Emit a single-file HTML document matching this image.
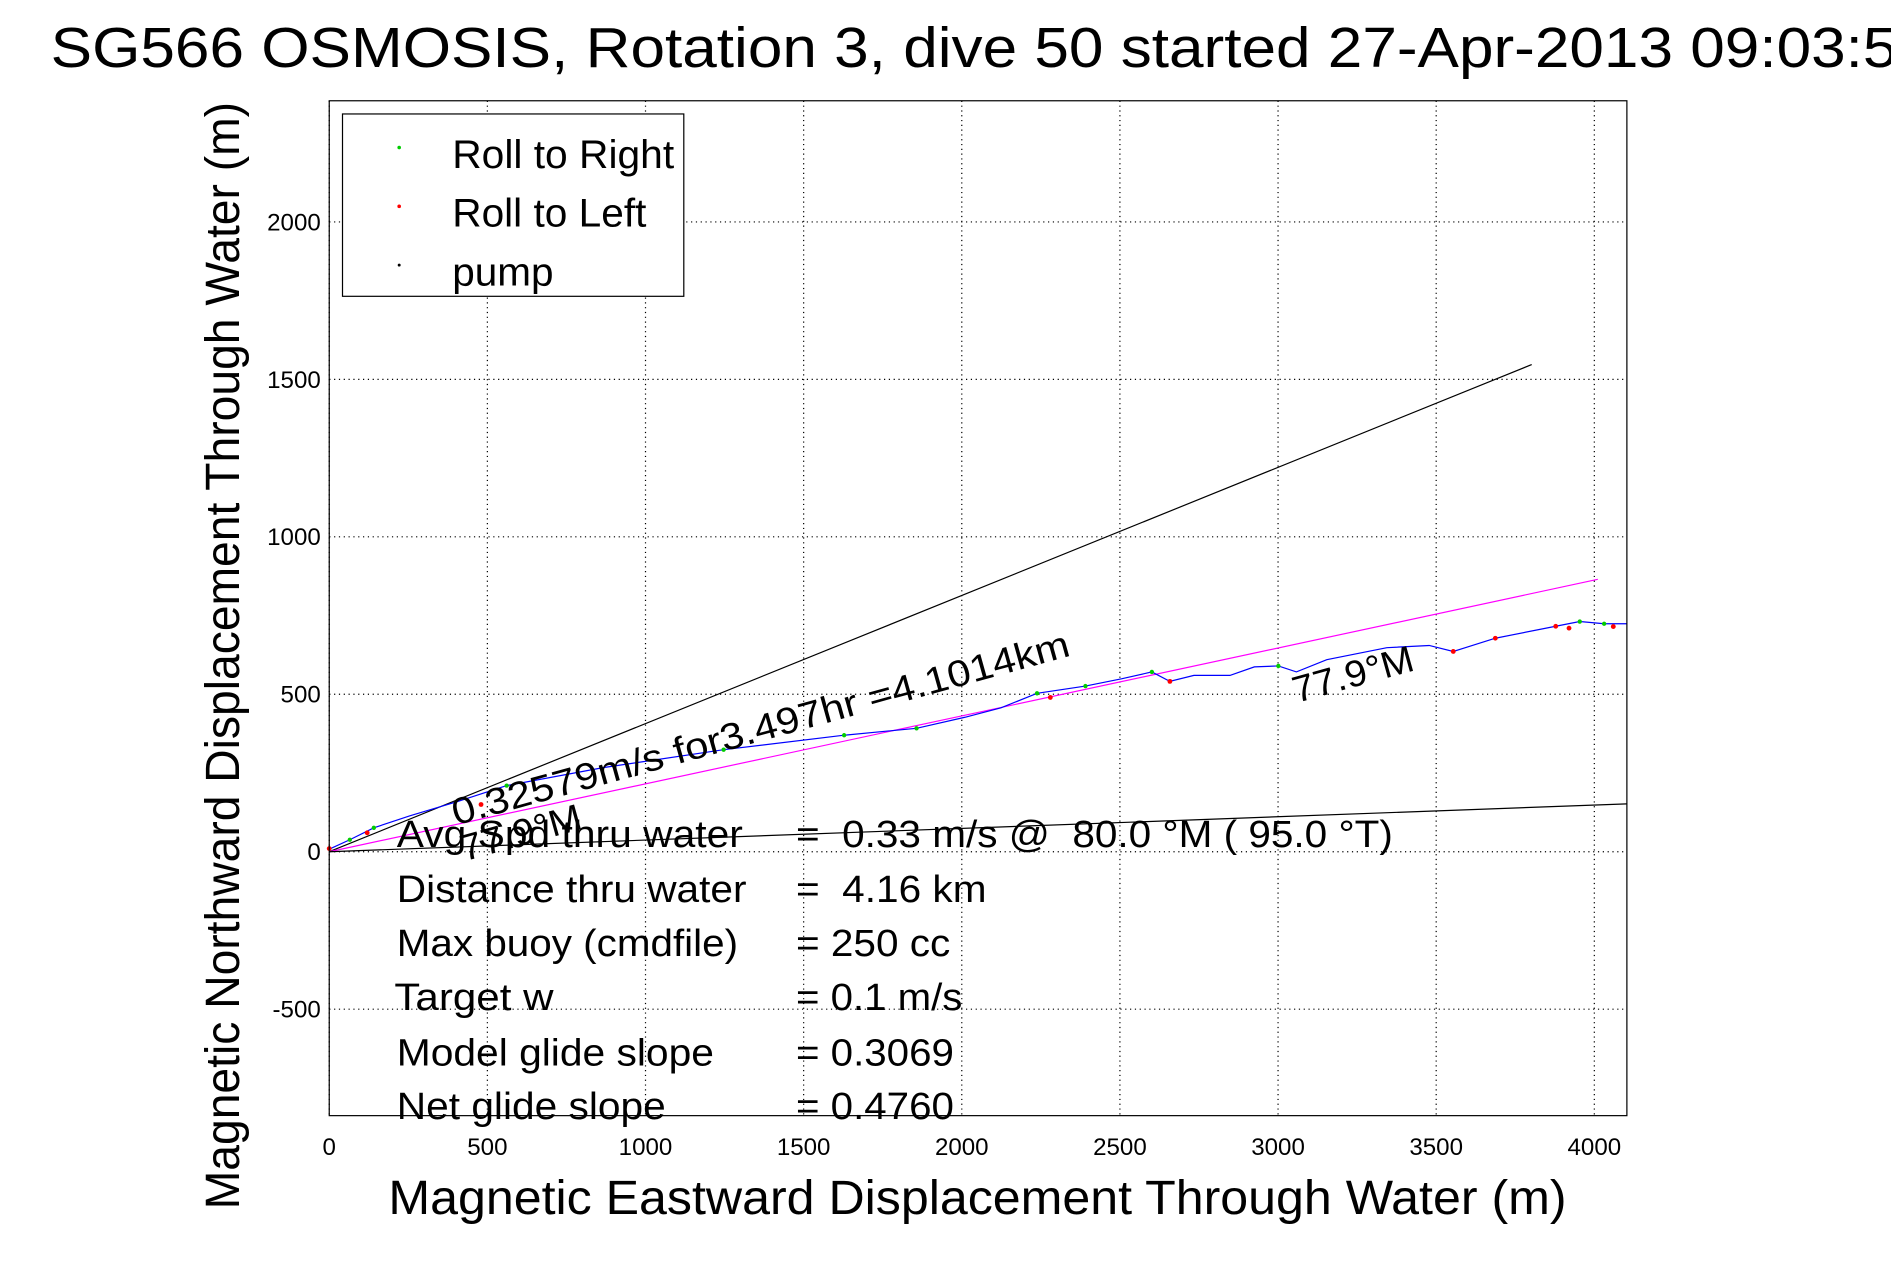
<!DOCTYPE html>
<html><head><meta charset="utf-8"><style>
html,body{margin:0;padding:0;background:#fff;}
svg{display:block;font-family:"Liberation Sans",sans-serif;}
text{white-space:pre;}
</style></head><body>
<svg id="chart" width="1891" height="1262" viewBox="0 0 1568 1052" preserveAspectRatio="none" xmlns="http://www.w3.org/2000/svg">
<rect width="1568" height="1052" fill="#fff"/>
<text x="42" y="56" font-size="47" textLength="1560" lengthAdjust="spacingAndGlyphs">SG566 OSMOSIS, Rotation 3, dive 50 started 27-Apr-2013 09:03:59</text>
<g id="grid"></g>
<g id="marks"></g>
<rect x="273" y="84" width="1076" height="846" fill="none" stroke="#000" stroke-width="1"/>
<g id="ticks" font-size="20"></g>
<text x="322" y="1012" font-size="40" textLength="977" lengthAdjust="spacingAndGlyphs">Magnetic Eastward Displacement Through Water (m)</text>
<text transform="translate(198,1008) rotate(-90)" font-size="40" textLength="923" lengthAdjust="spacingAndGlyphs">Magnetic Northward Displacement Through Water (m)</text>
<g>
<rect x="284" y="95" width="283" height="152" fill="#fff" stroke="#000"/>
<circle cx="331" cy="123" r="1.5" fill="#0c0"/><text x="375" y="140" font-size="33" textLength="184" lengthAdjust="spacingAndGlyphs">Roll to Right</text>
<circle cx="331" cy="172" r="1.5" fill="#f00"/><text x="375" y="189" font-size="33" textLength="161" lengthAdjust="spacingAndGlyphs">Roll to Left</text>
<circle cx="331" cy="221" r="1.2" fill="#000"/><text x="375" y="238" font-size="33" textLength="84" lengthAdjust="spacingAndGlyphs">pump</text>
</g>
<text transform="translate(378,688) rotate(-15.5)" font-size="31" textLength="530" lengthAdjust="spacingAndGlyphs">0.32579m/s for3.497hr =4.1014km</text>
<text transform="translate(1075,586) rotate(-15.5)" font-size="31" textLength="103" lengthAdjust="spacingAndGlyphs">77.9°M</text>
<text transform="translate(385,718) rotate(-15.5)" font-size="31" textLength="103" lengthAdjust="spacingAndGlyphs">77.9°M</text>
<g font-size="32">
<text x="329" y="706" textLength="287" lengthAdjust="spacingAndGlyphs">Avg Spd thru water</text><text x="660" y="706" textLength="495" lengthAdjust="spacingAndGlyphs">=  0.33 m/s @  80.0 °M ( 95.0 °T)</text>
<text x="329" y="752" textLength="290" lengthAdjust="spacingAndGlyphs">Distance thru water</text><text x="660" y="752" textLength="158" lengthAdjust="spacingAndGlyphs">=  4.16 km</text>
<text x="329" y="797" textLength="283" lengthAdjust="spacingAndGlyphs">Max buoy (cmdfile)</text><text x="660" y="797" textLength="128" lengthAdjust="spacingAndGlyphs">= 250 cc</text>
<text x="327" y="842" textLength="132" lengthAdjust="spacingAndGlyphs">Target w</text><text x="660" y="842" textLength="138" lengthAdjust="spacingAndGlyphs">= 0.1 m/s</text>
<text x="329" y="888" textLength="263" lengthAdjust="spacingAndGlyphs">Model glide slope</text><text x="660" y="888" textLength="131" lengthAdjust="spacingAndGlyphs">= 0.3069</text>
<text x="329" y="933" textLength="223" lengthAdjust="spacingAndGlyphs">Net glide slope</text><text x="660" y="933" textLength="131" lengthAdjust="spacingAndGlyphs">= 0.4760</text>
</g>
</svg>
<script>
const xTicks=[0,500,1000,1500,2000,2500,3000,3500,4000];
const yTicks=[-500,0,500,1000,1500,2000];
const trackX=[0,65,141,255,408,561,866,1247,1628,1857,2010,2124,2238,2391,2505,2601,2658,2734,2848,2925,3001,3058,3154,3344,3478,3554,3592,3687,3878,3954,4031,4103];
const trackY=[8,38,76,114,160,210,267,324,370,392,427,457,503,526,549,571,541,560,560,587,590,571,610,648,655,636,648,678,716,731,724,724];
const rightX=[65,141,561,1247,1628,1857,2238,2391,2601,3001,3954,4031];
const rightY=[38,76,210,324,370,392,503,526,571,590,731,724];
const leftX=[0,120,480,2280,2658,3554,3687,3878,3920,4060];
const leftY=[10,60,150,490,541,636,678,716,710,715];
const lineEndsX=[3802,4011,4103];
const lineEndsY=[1547,865,152];
const lineColors=["#000","#f0f","#000"];
const X=v=>273+v*0.26225, Y=v=>710-v*0.2625;
const NS="http://www.w3.org/2000/svg";
function mk(t,a,p){const e=document.createElementNS(NS,t);for(const k in a)e.setAttribute(k,a[k]);p.appendChild(e);return e;}
const grid=document.getElementById('grid'),ticks=document.getElementById('ticks'),marks=document.getElementById('marks');
xTicks.forEach(v=>{const g=mk('line',{x1:X(v),x2:X(v),y1:84,y2:930,stroke:'#000','stroke-dasharray':'1 3'},grid);

const t=mk('text',{x:X(v),y:963,'text-anchor':'middle'},ticks);t.textContent=v;
});
yTicks.forEach(v=>{const g=mk('line',{x1:273,x2:1349,y1:Y(v),y2:Y(v),stroke:'#000','stroke-dasharray':'1 3'},grid);

const t=mk('text',{x:266,y:Y(v)+7,'text-anchor':'end'},ticks);t.textContent=v;
});
lineEndsX.forEach((v,i)=>{const l=mk('line',{x1:X(0),y1:Y(0),x2:X(v),y2:Y(lineEndsY[i]),stroke:lineColors[i],'stroke-width':1},marks);
});
const p=mk('polyline',{points:trackX.map((v,i)=>X(v)+','+Y(trackY[i])).join(' '),fill:'none',stroke:'#00f','stroke-width':1},marks);

rightX.forEach((v,i)=>{const c=mk('circle',{cx:X(v),cy:Y(rightY[i]),r:1.8,fill:'#0c0'},marks);
});
leftX.forEach((v,i)=>{const c=mk('circle',{cx:X(v),cy:Y(leftY[i]),r:2,fill:'#f00'},marks);
});
</script>
</body></html>
